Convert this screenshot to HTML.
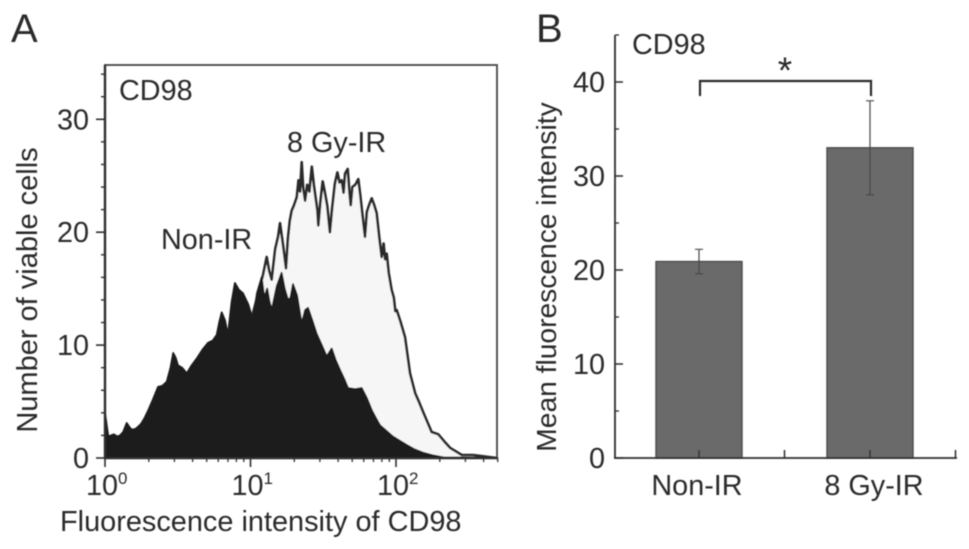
<!DOCTYPE html>
<html lang="en">
<head>
<meta charset="utf-8">
<title>CD98 fluorescence after irradiation</title>
<style>
html,body{margin:0;padding:0;background:#fff;}
#chart{display:block;width:969px;height:549px;}
text{font-family:"Liberation Sans",Arial,sans-serif;fill:#2a2a2a;font-size:28.8px;}
</style>
</head>
<body>
<svg id="chart" xmlns="http://www.w3.org/2000/svg" width="969" height="549" viewBox="0 0 969 549">
<defs><filter id="soft" x="-5%" y="-5%" width="110%" height="110%"><feGaussianBlur stdDeviation="0.55"/></filter></defs>
<rect width="969" height="549" fill="#fff"/>
<g id="root" filter="url(#soft)"></g>
</svg>
<script>
const histXTicks = [0, 1, 2];
const histYTicks = [0, 10, 20, 30];
const histYMinor = [2, 4, 6, 8, 12, 14, 16, 18, 22, 24, 26, 28, 32, 34];
const histXMinor = [2, 3, 4, 5, 6, 7, 8, 9, 20, 30, 40, 50, 60, 70, 80, 90, 200, 300, 400, 500];
const nonIrLog = [0, 0, 0.023, 0.06, 0.085, 0.103, 0.125, 0.149, 0.165, 0.184, 0.215, 0.241, 0.27, 0.296, 0.33, 0.364, 0.395, 0.424, 0.45, 0.469, 0.485, 0.502, 0.53, 0.562, 0.595, 0.630, 0.67, 0.708, 0.74, 0.768, 0.785, 0.802, 0.825, 0.845, 0.87, 0.893, 0.92, 0.948, 0.985, 1.017, 1.045, 1.077, 1.095, 1.115, 1.13, 1.146, 1.18, 1.214, 1.235, 1.258, 1.275, 1.292, 1.32, 1.352, 1.375, 1.395, 1.425, 1.455, 1.49, 1.524, 1.558, 1.585, 1.615, 1.645, 1.670, 1.72, 1.764, 1.80, 1.833, 1.860, 1.890, 1.935, 1.979, 2.03, 2.074, 2.13, 2.186, 2.25, 2.323, 2.694];
const nonIrCount = [0, 4.0, 1.9, 2.1, 1.9, 2.0, 2.3, 3.1, 2.8, 2.5, 2.6, 2.9, 3.5, 4.2, 5.2, 6.3, 6.4, 6.75, 8.0, 9.3, 8.9, 8.2, 8.0, 7.5, 8.2, 8.8, 9.6, 10.2, 10.4, 10.9, 12.0, 12.9, 12.2, 10.9, 13.8, 15.5, 14.9, 14.6, 13.6, 12.2, 14.6, 16.0, 14.2, 15.0, 13.9, 13.1, 15.2, 16.4, 15.0, 14.0, 14.2, 15.4, 14.4, 11.9, 13.1, 13.3, 12.2, 11.0, 10.0, 9.0, 9.7, 8.7, 7.8, 7.0, 6.2, 6.1, 6.2, 5.3, 4.25, 3.6, 2.9, 2.4, 1.9, 1.5, 1.15, 0.75, 0.47, 0.25, 0.06, 0];
const gyLog = [0, 1.0, 1.086, 1.111, 1.128, 1.146, 1.17, 1.19, 1.203, 1.218, 1.232, 1.244, 1.258, 1.27, 1.283, 1.30, 1.318, 1.33, 1.341, 1.352, 1.362, 1.375, 1.39, 1.405, 1.421, 1.435, 1.45, 1.46, 1.466, 1.48, 1.496, 1.51, 1.528, 1.546, 1.56, 1.58, 1.597, 1.612, 1.627, 1.64, 1.65, 1.668, 1.68, 1.689, 1.70, 1.72, 1.741, 1.755, 1.77, 1.787, 1.80, 1.815, 1.833, 1.85, 1.867, 1.885, 1.902, 1.915, 1.925, 1.936, 1.95, 1.970, 1.985, 1.995, 2.005, 2.03, 2.062, 2.096, 2.131, 2.16, 2.188, 2.245, 2.291, 2.33, 2.371, 2.452, 2.529, 2.694];
const gyCount = [0, 12, 16.2, 17.8, 16.6, 15.8, 18.5, 19.6, 20.8, 19.4, 18.0, 16.8, 19.5, 21.0, 21.9, 22.4, 23.1, 24.6, 23.6, 26.2, 23.9, 22.8, 24.2, 23.6, 25.8, 24.2, 22.8, 21.9, 20.6, 22.6, 24.5, 23.6, 22.3, 20.0, 22.0, 24.3, 25.3, 24.4, 24.6, 23.5, 25.2, 25.6, 23.6, 22.4, 24.0, 24.2, 24.7, 23.2, 21.5, 19.6, 21.8, 22.4, 23.0, 22.4, 21.7, 19.5, 17.8, 19.0, 17.6, 18.1, 16.4, 14.9, 14.2, 13.0, 13.1, 12.1, 10.7, 7.5, 5.75, 4.9, 4.0, 2.3, 2.1, 1.5, 0.9, 0.27, 0.27, 0];
const barCategories = ['Non-IR', '8 Gy-IR'];
const barMeans = [20.9, 33];
const barErrLow = [19.6, 28];
const barErrHigh = [22.2, 38];
const barYTicks = [0, 10, 20, 30, 40];
const barYMinor = [5, 15, 25, 35, 45];

const NS = 'http://www.w3.org/2000/svg';
const root = document.getElementById('root');
const INK = '#2e2e2e';
const hx = v => 105 + v * 145.5;
const hy = v => 458 - v * 11.29;
const by = v => 458 - v * 9.4;
const bcx = i => 699 + i * 171;

function make(tag, attrs, parent) {
  const el = document.createElementNS(NS, tag);
  for (const k in attrs) el.setAttribute(k, attrs[k]);
  (parent || root).appendChild(el);
  return el;
}
function seg(x1, y1, x2, y2, w, color) {
  const el = make('line', {x1: x1, y1: y1, x2: x2, y2: y2, stroke: color || INK, 'stroke-width': w});
  return el;
}
function label(str, x, y, anchor, size) {
  const el = make('text', {x: x, y: y, 'text-anchor': anchor || 'start'});
  if (size) el.style.fontSize = size + 'px';
  el.textContent = str;
  return el;
}
function areaPath(xs, ys) {
  let d = 'M' + hx(xs[0]) + ' ' + hy(0);
  xs.forEach((x, i) => { d += 'L' + hx(x).toFixed(1) + ' ' + hy(ys[i]).toFixed(1); });
  return d + 'L' + hx(xs[xs.length - 1]) + ' ' + hy(0) + 'Z';
}

let e;
e = label('A', 11, 42, 'start', 40);


e = label('B', 536, 42, 'start', 40);



e = make('path', {d: areaPath(gyLog, gyCount), fill: '#f6f6f6', stroke: '#2a2a2a', 'stroke-width': 2.6, 'stroke-linejoin': 'round'});


e = make('path', {d: areaPath(nonIrLog, nonIrCount), fill: '#1e1e1e', stroke: '#1e1e1e', 'stroke-width': 1.8, 'stroke-linejoin': 'round'});



e = make('rect', {x: 105, y: 65, width: 392, height: 393, fill: 'none', stroke: '#444', 'stroke-width': 1.8});


e = seg(105, 65, 105, 458, 2.4);


e = seg(105, 458, 497, 458, 2);



histYTicks.forEach(v => {
  e = seg(96, hy(v), 105, hy(v), 1.6);
  
  
  e = label(String(v), 89, hy(v) + 10, 'end');
  
  
});
histYMinor.forEach(v => {
  e = seg(101, hy(v), 105, hy(v), 1.4);
  
  
});
histXTicks.forEach(v => {
  e = seg(hx(v), 458, hx(v), 467, 1.6);
  
  
  const t = make('text', {x: hx(v) - 19, y: 495});
  
  
  t.textContent = '10';
  const s = make('tspan', {dx: 0, dy: -11}, t);
  s.style.fontSize = '17px';
  s.textContent = String(v);
});
histXMinor.forEach(v => {
  const p = Math.log10(v);
  e = seg(hx(p), 458, hx(p), 462, 1.3);
  
  
});

e = label('CD98', 119, 100);


e = label('8 Gy-IR', 287, 152);


e = label('Non-IR', 161, 249);


e = label('Fluorescence intensity of CD98', 60, 531, 'start', 28.9);


e = label('Number of viable cells', 0, 0, 'middle', 29);
e.setAttribute('transform', 'translate(37 290) rotate(-90)');



barMeans.forEach((m, i) => {
  e = make('rect', {x: bcx(i) - 43, y: by(m), width: 86, height: 458 - by(m), fill: '#6b6b6b', stroke: '#4a4a4a', 'stroke-width': 1.4});
  
  
  e = seg(bcx(i), by(barErrLow[i]), bcx(i), by(barErrHigh[i]), 1.2, '#444');
  
  
  e = seg(bcx(i) - 4, by(barErrHigh[i]), bcx(i) + 4, by(barErrHigh[i]), 1.2, '#555');
  
  
  e = seg(bcx(i) - 4, by(barErrLow[i]), bcx(i) + 4, by(barErrLow[i]), 1.2, '#444');
  
  
  e = label(barCategories[i], bcx(i) - 2 + i * 6, 495, 'middle');
  
  
});

e = seg(615, 35, 615, 458, 1.8);


e = seg(614, 458, 957, 458, 1.8);


barYTicks.forEach(v => {
  e = seg(615, by(v), 623, by(v), 1.5);
  
  
  e = label(String(v), 605, by(v) + 10, 'end');
  
  
});
barYMinor.forEach(v => {
  e = seg(615, by(v), 619, by(v), 1.3);
  
  
});
[0, 0.5, 1, 1.5].forEach(i => {
  e = seg(bcx(i), 450, bcx(i), 458, 1.5);
  
  
});

e = make('path', {d: 'M700 96V81H871V96', fill: 'none', stroke: '#2a2a2a', 'stroke-width': 2.2});


e = label('*', 785, 83, 'middle', 37);


e = label('CD98', 632, 54);


e = label('Mean fluorescence intensity', 0, 0, 'middle', 28.2);
e.setAttribute('transform', 'translate(556 277) rotate(-90)');


</script>
</body>
</html>
